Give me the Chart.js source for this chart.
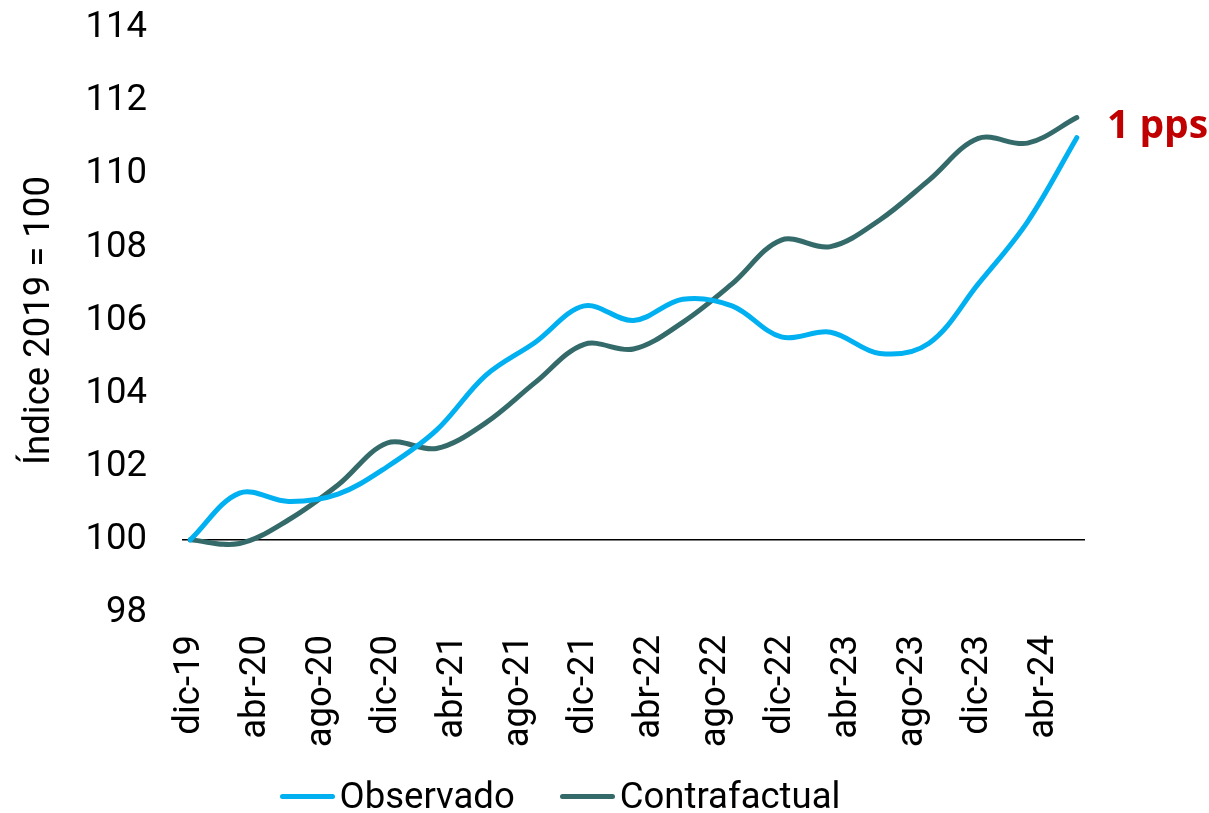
<!DOCTYPE html>
<html lang="es">
<head>
<meta charset="utf-8">
<title>Observado vs Contrafactual</title>
<script src="https://cdn.jsdelivr.net/npm/chart.js@4.4.1/dist/chart.umd.min.js"></script>
<style>
  html, body { margin: 0; padding: 0; background: #fff; }
  #wrap { width: 1209px; height: 813px; position: relative; overflow: hidden; }
  #leyenda {
    position: absolute; left: 0; top: 774px; width: 1120px;
    display: flex; justify-content: center; gap: 45px;
    font-family: Roboto, sans-serif; font-size: 36.5px; color: #000; line-height: 44px;
  }
  #leyenda .item { display: flex; align-items: center; }
  #leyenda .linea { display: inline-block; width: 55px; height: 5px; border-radius: 3px; margin-right: 5px; }
</style>
</head>
<body>
<div id="wrap">
  <canvas id="grafico"></canvas>
  <div id="leyenda"></div>
</div>
<script>
// meses desde dic-19 (datos trimestrales)
const meses = [0, 3, 6, 9, 12, 15, 18, 21, 24, 27, 30, 33, 36, 39, 42, 45, 48, 51, 54];
const observado = [100, 101.28, 101.05, 101.25, 102.0, 103.0, 104.5, 105.4, 106.4, 106.0, 106.58, 106.4, 105.55, 105.68, 105.1, 105.38, 107.0, 108.7, 111.0];
const contrafactual = [100, 99.9, 100.55, 101.5, 102.65, 102.5, 103.2, 104.3, 105.35, 105.22, 105.95, 107.0, 108.2, 108.02, 108.75, 109.84, 110.98, 110.85, 111.55];

// etiquetas del eje x, cada 4 meses
const mesesEtiquetas = [0, 4, 8, 12, 16, 20, 24, 28, 32, 36, 40, 44, 48, 52];
const etiquetas = ['dic-19', 'abr-20', 'ago-20', 'dic-20', 'abr-21', 'ago-21', 'dic-21', 'abr-22', 'ago-22', 'dic-22', 'abr-23', 'ago-23', 'dic-23', 'abr-24'];

const textoBrecha = '1 pps';

Chart.defaults.font.family = 'Roboto';
Chart.defaults.color = '#000';

/* texto rojo al final de las series */
const brechaPlugin = {
  id: 'brecha',
  afterDraw(chart) {
    const ctx = chart.ctx;
    const y = chart.scales.y;
    const area = chart.chartArea;
    ctx.save();
    ctx.font = 'bold 39px "Open Sans"';
    ctx.fillStyle = '#C00000';
    ctx.textAlign = 'left';
    ctx.textBaseline = 'alphabetic';
    ctx.fillText(textoBrecha, area.right + 22, y.getPixelForValue(observado[observado.length - 1]));
    ctx.restore();
  }
};

const ctx = document.getElementById('grafico');
const grafico = new Chart(ctx, {
  type: 'line',
  data: {
    datasets: [
      {
        label: 'Observado',
        data: meses.map((m, i) => ({ x: m, y: observado[i] })),
        borderColor: '#00B0F0',
        backgroundColor: '#00B0F0',
        borderWidth: 5,
        pointRadius: 0,
        tension: 0.35,
        borderCapStyle: 'round'
      },
      {
        label: 'Contrafactual',
        data: meses.map((m, i) => ({ x: m, y: contrafactual[i] })),
        borderColor: '#346B6A',
        backgroundColor: '#346B6A',
        borderWidth: 5,
        pointRadius: 0,
        tension: 0.35,
        borderCapStyle: 'round'
      }
    ]
  },
  options: {
    responsive: true,
    maintainAspectRatio: false,
    animation: false,
    layout: { padding: { top: 28, right: 124, left: 0, bottom: 40 } },
    plugins: {
      tooltip: { enabled: false },
      legend: { display: false }
    },
    scales: {
      x: {
        type: 'linear',
        min: -0.5,
        max: 54.5,
        grid: { display: false, drawTicks: false },
        border: { display: false },
        afterBuildTicks(scale) {
          scale.ticks = mesesEtiquetas.map(v => ({ value: v }));
        },
        afterFit(scale) {
          scale.height = 160;
        },
        ticks: {
          autoSkip: false,
          minRotation: 90,
          maxRotation: 90,
          padding: 22,
          font: { size: 36.5 },
          color: '#000',
          callback: (v, i) => etiquetas[i]
        }
      },
      y: {
        min: 98,
        max: 114,
        grid: {
          drawTicks: false,
          color: c => c.tick && c.tick.value === 100 ? '#000' : 'rgba(0,0,0,0)',
          lineWidth: 1.6
        },
        border: { display: false },
        afterFit(scale) {
          scale.width = 182;
          scale.paddingTop = 0;
          scale.paddingBottom = 0;
        },
        ticks: {
          stepSize: 2,
          padding: 35,
          font: { size: 36.5 },
          color: '#000'
        },
        title: {
          display: true,
          text: 'Índice 2019 = 100',
          font: { size: 36.5 },
          color: '#000',
          padding: { top: 18, bottom: 0 }
        }
      }
    }
  },
  plugins: [brechaPlugin]
});

// leyenda en HTML
const leyenda = document.getElementById('leyenda');
grafico.data.datasets.forEach(ds => {
  leyenda.insertAdjacentHTML('beforeend',
    `<span class="item"><span class="linea" style="background:${ds.borderColor}"></span>${ds.label}</span>`);
});
</script>
</body>
</html>
